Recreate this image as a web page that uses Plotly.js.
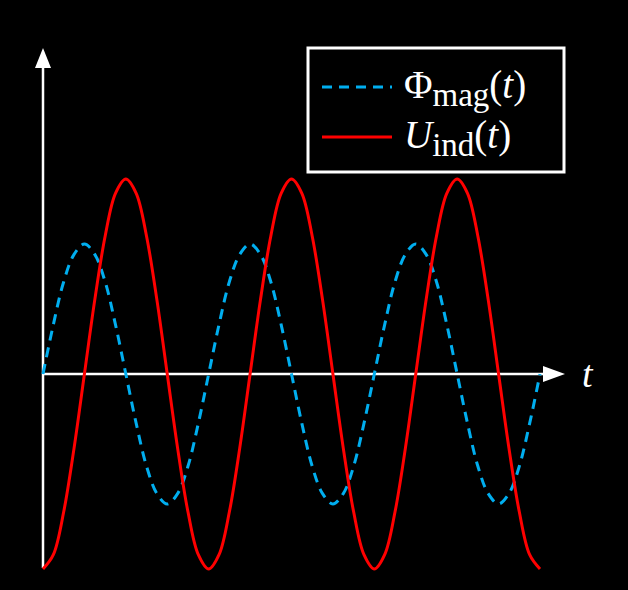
<!DOCTYPE html>
<html>
<head>
<meta charset="utf-8">
<script src="https://cdn.plot.ly/plotly-3.0.1.min.js"></script>
<style>html,body{margin:0;padding:0;background:#000;}</style>
</head>
<body>
<div id="chart" style="width:628px;height:590px;"></div>
<script>
// time samples (1/16 of a period each, three periods)
const t = [0,1,2,3,4,5,6,7,8,9,10,11,12,13,14,15,16,17,18,19,20,21,22,23,24,
           25,26,27,28,29,30,31,32,33,34,35,36,37,38,39,40,41,42,43,44,45,46,47,48];
// magnetic flux (dashed blue)
const phiMag = [0,0.38,0.71,0.92,1,0.92,0.71,0.38,0,-0.38,-0.71,-0.92,-1,-0.92,-0.71,-0.38,
                0,0.38,0.71,0.92,1,0.92,0.71,0.38,0,-0.38,-0.71,-0.92,-1,-0.92,-0.71,-0.38,
                0,0.38,0.71,0.92,1,0.92,0.71,0.38,0,-0.38,-0.71,-0.92,-1,-0.92,-0.71,-0.38,0];
// induced voltage (solid red)
const uInd = [-1.5,-1.39,-1.06,-0.57,0,0.57,1.06,1.39,1.5,1.39,1.06,0.57,0,-0.57,-1.06,-1.39,
              -1.5,-1.39,-1.06,-0.57,0,0.57,1.06,1.39,1.5,1.39,1.06,0.57,0,-0.57,-1.06,-1.39,
              -1.5,-1.39,-1.06,-0.57,0,0.57,1.06,1.39,1.5,1.39,1.06,0.57,0,-0.57,-1.06,-1.39,-1.5];
const names = ['Φ<sub><span style="font-size:33px">mag</span></sub>(<i>t</i>)',
               '<i>U</i><sub><span style="font-size:33px">ind</span></sub>(<i>t</i>)'];
const axisLabel = '<i>t</i>';

const W = 628, H = 590;
const x0px = 43, y0px = 374;
const pxPerT = 497 / 48, pxPerY = 130;
const xr = [-x0px / pxPerT, (W - x0px) / pxPerT];
const yr = [-(H - y0px) / pxPerY, y0px / pxPerY];
const px2x = p => (p - x0px) / pxPerT;
const py2y = p => (y0px - p) / pxPerY;

const blue = '#00AEEF', red = '#FF0000';
const font = 'Liberation Serif, Times New Roman, serif';

const traces = [
  {x: t, y: phiMag, name: names[0], mode: 'lines', type: 'scatter',
   line: {color: blue, width: 3, dash: '10px,7px', shape: 'spline', smoothing: 1}},
  {x: t, y: uInd, name: names[1], mode: 'lines', type: 'scatter',
   line: {color: red, width: 3, shape: 'spline', smoothing: 1}}
];

const shapes = [
  // x axis
  {type: 'line', xref: 'x', yref: 'y', x0: 0, y0: 0, x1: px2x(548), y1: 0,
   line: {color: 'white', width: 2.5}, layer: 'below'},
  {type: 'path', xref: 'x', yref: 'y', xsizemode: 'pixel', ysizemode: 'pixel',
   xanchor: px2x(565), yanchor: 0, path: 'M0,0 L-22,8 L-22,-8 Z',
   fillcolor: 'white', line: {width: 0}},
  // y axis
  {type: 'line', xref: 'x', yref: 'y', x0: 0, y0: py2y(568), x1: 0, y1: py2y(64),
   line: {color: 'white', width: 2.5}, layer: 'below'},
  {type: 'path', xref: 'x', yref: 'y', xsizemode: 'pixel', ysizemode: 'pixel',
   xanchor: 0, yanchor: py2y(48), path: 'M0,0 L-8,-20 L8,-20 Z',
   fillcolor: 'white', line: {width: 0}},
  // legend box
  {type: 'rect', xref: 'paper', yref: 'paper', x0: 308 / W, x1: 564 / W,
   y0: 1 - 172 / H, y1: 1 - 48 / H, fillcolor: 'black', line: {color: 'white', width: 3}},
  {type: 'line', xref: 'paper', yref: 'paper', x0: 322 / W, x1: 392 / W,
   y0: 1 - 87 / H, y1: 1 - 87 / H, line: {color: blue, width: 3, dash: '10px,7px'}},
  {type: 'line', xref: 'paper', yref: 'paper', x0: 322 / W, x1: 392 / W,
   y0: 1 - 137 / H, y1: 1 - 137 / H, line: {color: red, width: 3}}
];

const annotations = [
  {xref: 'x', yref: 'y', x: px2x(588), y: 0, text: axisLabel, showarrow: false,
   xanchor: 'center', yanchor: 'middle', font: {family: font, size: 38, color: 'white'}},
  {xref: 'paper', yref: 'paper', x: 402 / W, y: 1 - 88 / H, text: names[0], showarrow: false,
   xanchor: 'left', yanchor: 'middle', font: {family: font, size: 39, color: 'white'}},
  {xref: 'paper', yref: 'paper', x: 402 / W, y: 1 - 138 / H, text: names[1], showarrow: false,
   xanchor: 'left', yanchor: 'middle', font: {family: font, size: 39, color: 'white'}}
];

const layout = {
  width: W, height: H,
  margin: {l: 0, r: 0, t: 0, b: 0, pad: 0},
  paper_bgcolor: 'black', plot_bgcolor: 'black',
  showlegend: false,
  xaxis: {range: xr, visible: false, fixedrange: true},
  yaxis: {range: yr, visible: false, fixedrange: true},
  shapes: shapes,
  annotations: annotations
};

Plotly.newPlot('chart', traces, layout, {displayModeBar: false, staticPlot: true});
</script>
</body>
</html>
